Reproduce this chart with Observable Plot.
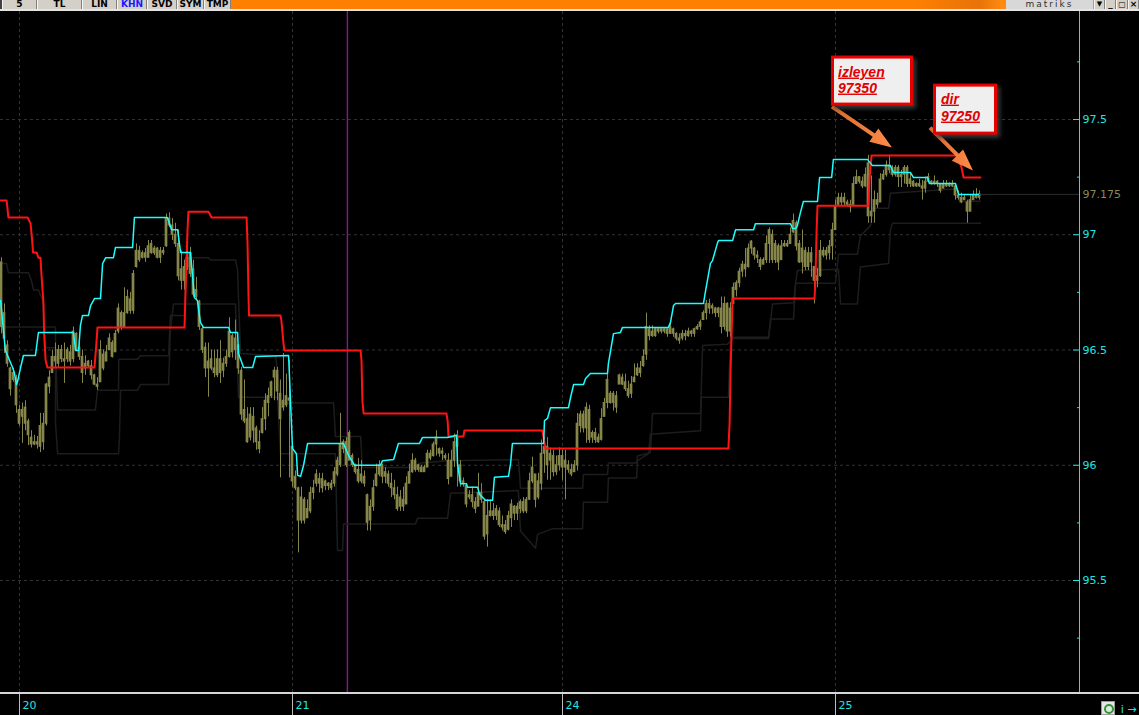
<!DOCTYPE html>
<html><head><meta charset="utf-8">
<script src="https://cdn.jsdelivr.net/npm/d3@7"></script>
<script src="https://cdn.jsdelivr.net/npm/@observablehq/plot@0.6"></script>
<style>
html,body{margin:0;padding:0;background:#000;}
body{width:1139px;height:715px;overflow:hidden;position:relative;font-family:"DejaVu Sans",sans-serif;}
#tb{position:absolute;left:0;top:0;width:1139px;height:9px;background:linear-gradient(90deg,#ff8000 0%,#ff8000 80%,#e8730a 86%,#ff8a10 88%);border-bottom:2px solid #e4e4e4;overflow:hidden;}
#tb .b{position:absolute;top:0;height:9px;background:#d4d0c8;border-left:1px solid #f4f4f4;border-right:1px solid #808080;box-sizing:border-box;font:bold 9px "DejaVu Sans",sans-serif;line-height:9px;text-align:center;color:#000;overflow:hidden;}
#tb .lead{position:absolute;left:0;top:0;width:2px;height:9px;background:#404040;}
#logo{position:absolute;left:1006px;top:0;width:87px;height:9px;background:#d8d8d8;font:9px "DejaVu Sans",sans-serif;line-height:9px;letter-spacing:2px;color:#303030;text-align:center;}
#chart{position:absolute;left:0;top:11px;}
#axisline{position:absolute;left:0;top:692px;width:1139px;height:2px;background:#d6d6d6;}
#icon{position:absolute;left:1101px;top:701px;width:14px;height:14px;background:#e6e6e6;border:1px solid #9a9a9a;box-sizing:border-box;}
#icon .ring{position:absolute;left:2px;top:2px;width:6px;height:6px;border:2px solid #2f9a2f;border-radius:50%;}
</style></head>
<body>
<div id="tb">
 <div class="lead"></div>
 <div class="b" style="left:2px;width:35px">5</div>
 <div class="b" style="left:37px;width:45px">TL</div>
 <div class="b" style="left:82px;width:35px">LIN</div>
 <div class="b" style="left:117px;width:30px;color:#1a1aff">KHN</div>
 <div class="b" style="left:147px;width:30px">SVD</div>
 <div class="b" style="left:177px;width:27px">SYM</div>
 <div class="b" style="left:204px;width:27px">TMP</div>
 <div id="logo">matriks</div>
 <div class="b" style="left:1094px;width:11px;font-size:7px">▼</div>
 <div class="b" style="left:1105px;width:11px">_</div>
 <div class="b" style="left:1116px;width:12px;font-size:8px">▢</div>
 <div class="b" style="left:1128px;width:11px">×</div>
</div>
<div id="chart"></div>
<div id="axisline"></div>
<div id="icon"><div class="ring"></div></div>
<script>
// ---- data ----
const dayStart = [6, 97, 187, 278];
const dayLabels = ["20", "21", "24", "25"];
const priceTicks = [95.5, 96, 96.5, 97, 97.5];
const minorTicks = [95.25, 95.75, 96.25, 96.75, 97.25, 97.75];
const cursorBar = 115.3;

const high = [
96.90,96.70,96.54,96.425,96.42,96.39,96.26,96.27,96.28,96.20,
96.15,96.13,96.125,96.225,96.225,96.355,96.41,96.50,96.53,96.52,
96.52,96.53,96.51,96.52,96.60,96.575,96.54,96.50,96.475,96.455,
96.455,96.395,96.38,96.54,96.50,96.52,96.57,96.54,96.585,96.70,
96.67,96.77,96.76,96.75,96.845,96.96,96.95,96.93,96.94,96.975,
96.975,96.95,96.945,96.945,96.945,97.09,97.095,97.07,97.05,97.02,
96.93,96.89,96.95,96.945,96.89,96.815,96.715,96.60,96.53,96.53,
96.50,96.50,96.50,96.54,96.465,96.50,96.64,96.57,96.63,96.52,
96.425,96.37,96.25,96.25,96.25,96.17,96.15,96.25,96.31,96.335,
96.365,96.425,96.425,96.37,96.485,96.395,96.455,96.095,95.975,95.905,
95.905,95.86,95.85,95.905,95.935,95.98,95.965,95.965,95.935,95.925,
95.935,95.99,96.035,96.225,96.11,96.12,96.15,96.05,96.005,96.03,
96.02,95.975,95.875,95.85,95.935,96.005,96.02,96.005,95.99,95.975,
95.965,95.935,95.905,95.89,95.905,95.95,96.005,96.05,96.03,96.005,
96.00,96.00,96.065,96.065,96.10,96.15,96.075,96.075,96.05,96.05,
96.065,96.135,96.15,96.02,95.945,95.905,95.89,95.905,95.86,95.965,
95.92,95.85,95.85,95.85,95.835,95.825,95.815,95.78,95.76,95.80,
95.85,95.825,95.835,95.85,95.86,95.86,95.965,96.035,95.935,95.965,
96.11,96.12,96.12,96.075,96.065,96.04,96.075,96.065,96.065,96.02,
96.005,96.02,96.225,96.235,96.235,96.27,96.26,96.15,96.16,96.135,
96.245,96.29,96.395,96.32,96.32,96.32,96.395,96.395,96.395,96.365,
96.385,96.44,96.44,96.45,96.50,96.66,96.605,96.605,96.595,96.595,
96.595,96.595,96.595,96.615,96.595,96.575,96.57,96.585,96.585,96.595,
96.585,96.595,96.61,96.63,96.67,96.715,96.72,96.70,96.685,96.685,
96.73,96.73,96.705,96.705,96.79,96.80,96.855,96.885,96.94,96.96,
96.975,96.945,96.93,96.90,96.90,96.995,97.03,97.02,96.975,96.96,
96.975,96.975,96.975,97.03,97.09,97.06,96.975,97.02,96.945,96.945,
96.945,96.845,96.855,96.975,96.945,96.945,96.975,97.05,97.15,97.18,
97.18,97.18,97.15,97.15,97.25,97.28,97.25,97.25,97.29,97.345,
97.255,97.19,97.18,97.265,97.28,97.32,97.345,97.30,97.30,97.30,
97.28,97.30,97.30,97.265,97.235,97.225,97.24,97.235,97.25,97.265,
97.235,97.255,97.235,97.22,97.235,97.235,97.225,97.235,97.22,97.19,
97.18,97.17,97.15,97.17,97.19,97.20,97.19];

const low = [
96.57,96.485,96.425,96.30,96.36,96.225,96.17,96.095,96.15,96.085,
96.075,96.085,96.07,96.055,96.065,96.17,96.31,96.40,96.425,96.425,
96.445,96.355,96.445,96.43,96.445,96.50,96.455,96.355,96.39,96.42,
96.37,96.345,96.325,96.365,96.41,96.455,96.50,96.465,96.49,96.57,
96.585,96.595,96.655,96.655,96.655,96.855,96.88,96.895,96.88,96.91,
96.915,96.91,96.895,96.875,96.91,96.945,97.03,96.975,96.945,96.80,
96.76,96.76,96.845,96.815,96.73,96.715,96.585,96.485,96.38,96.295,
96.41,96.38,96.38,96.355,96.38,96.425,96.465,96.465,96.455,96.395,
96.195,96.18,96.095,96.105,96.095,96.065,96.05,96.135,96.15,96.21,
96.29,96.28,96.28,95.945,96.235,96.25,95.945,95.905,95.89,95.62,
95.745,95.745,95.78,95.79,95.85,95.905,95.88,95.88,95.89,95.89,
95.89,95.905,95.95,95.99,96.05,95.99,96.04,95.99,95.96,95.92,
95.92,95.905,95.715,95.715,95.80,95.905,95.95,95.92,95.92,95.905,
95.86,95.85,95.80,95.80,95.80,95.835,95.92,95.965,95.97,95.97,
95.97,95.97,95.99,96.02,96.035,96.04,96.035,96.02,96.02,95.915,
95.965,95.99,95.905,95.905,95.905,95.815,95.85,95.815,95.79,95.85,
95.835,95.675,95.645,95.775,95.76,95.76,95.73,95.715,95.70,95.715,
95.73,95.76,95.76,95.79,95.79,95.79,95.85,95.92,95.815,95.85,
95.89,95.965,95.935,95.935,95.95,95.955,95.975,95.935,95.85,95.965,
95.95,95.975,95.975,96.14,96.14,96.095,96.095,96.095,96.095,96.095,
96.105,96.22,96.245,96.265,96.235,96.225,96.35,96.345,96.32,96.29,
96.29,96.36,96.385,96.38,96.425,96.455,96.54,96.555,96.555,96.57,
96.57,96.57,96.555,96.57,96.555,96.54,96.525,96.54,96.54,96.555,
96.555,96.555,96.585,96.585,96.63,96.63,96.655,96.655,96.64,96.64,
96.57,96.585,96.555,96.555,96.70,96.73,96.77,96.815,96.815,96.855,
96.915,96.89,96.875,96.845,96.875,96.875,96.875,96.875,96.875,96.845,
96.89,96.945,96.945,96.96,97.005,96.93,96.875,96.83,96.845,96.845,
96.815,96.70,96.77,96.815,96.90,96.89,96.89,96.89,97.02,97.125,
97.125,97.125,97.12,97.095,97.125,97.22,97.22,97.20,97.205,97.05,
97.05,97.05,97.115,97.16,97.235,97.25,97.265,97.25,97.25,97.205,
97.205,97.22,97.205,97.205,97.205,97.205,97.205,97.15,97.18,97.235,
97.215,97.215,97.205,97.18,97.205,97.205,97.205,97.205,97.15,97.15,
97.135,97.15,97.05,97.115,97.15,97.155,97.15];

const open = [
96.88,96.66,96.52,96.42,96.40,96.37,96.24,96.24,96.25,96.19,
96.12,96.10,96.09,96.08,96.18,96.18,96.34,96.40,96.47,96.44,
96.50,96.46,96.46,96.49,96.46,96.57,96.51,96.47,96.42,96.45,
96.43,96.39,96.35,96.36,96.48,96.45,96.50,96.53,96.49,96.58,
96.66,96.60,96.66,96.72,96.67,96.86,96.93,96.90,96.92,96.90,
96.96,96.92,96.94,96.90,96.93,96.95,97.07,97.04,97.00,96.96,
96.85,96.80,96.86,96.92,96.85,96.76,96.71,96.59,96.51,96.42,
96.46,96.42,96.39,96.46,96.41,96.44,96.47,96.56,96.50,96.52,
96.41,96.24,96.20,96.12,96.21,96.16,96.10,96.14,96.20,96.27,
96.30,96.38,96.41,96.31,96.25,96.30,96.28,96.08,95.95,95.90,
95.76,95.85,95.77,95.80,95.88,95.92,95.94,95.90,95.93,95.91,
95.92,95.92,95.96,96.00,96.07,96.10,96.02,96.04,96.00,95.98,
95.93,95.95,95.87,95.76,95.82,95.91,95.96,96.00,95.95,95.96,
95.92,95.90,95.87,95.82,95.85,95.83,95.92,95.97,96.02,95.98,
95.99,95.97,95.99,96.05,96.04,96.09,96.07,96.05,96.04,96.02,
95.95,96.02,96.12,96.00,95.93,95.91,95.86,95.87,95.84,95.82,
95.88,95.84,95.70,95.78,95.80,95.78,95.80,95.74,95.74,95.72,
95.77,95.82,95.79,95.81,95.84,95.80,95.85,95.93,95.96,95.86,
95.92,96.05,96.08,96.02,96.04,95.97,96.00,96.04,95.99,96.00,
95.98,95.97,96.00,96.17,96.22,96.16,96.24,96.12,96.14,96.12,
96.11,96.21,96.27,96.31,96.27,96.30,96.35,96.38,96.36,96.33,
96.31,96.36,96.39,96.42,96.43,96.48,96.59,96.58,96.56,96.58,
96.59,96.58,96.59,96.57,96.59,96.57,96.55,96.55,96.57,96.56,
96.58,96.57,96.59,96.60,96.63,96.66,96.70,96.68,96.68,96.66,
96.68,96.60,96.70,96.58,96.70,96.76,96.79,96.84,96.87,96.86,
96.94,96.94,96.91,96.89,96.87,96.89,96.96,97.00,96.89,96.95,
96.89,96.95,96.96,96.96,97.01,97.05,96.96,96.88,96.93,96.86,
96.92,96.86,96.80,96.82,96.93,96.91,96.92,96.95,97.02,97.13,
97.16,97.14,97.14,97.13,97.13,97.22,97.25,97.23,97.21,97.31,
97.08,97.10,97.15,97.14,97.24,97.26,97.30,97.28,97.26,97.29,
97.25,97.26,97.29,97.22,97.23,97.21,97.22,97.21,97.20,97.23,
97.23,97.22,97.23,97.22,97.20,97.22,97.21,97.22,97.21,97.17,
97.16,97.15,97.14,97.10,97.15,97.17,97.16];

const close = [
96.60,96.55,96.44,96.33,96.37,96.26,96.18,96.21,96.18,96.13,
96.09,96.09,96.10,96.17,96.10,96.35,96.38,96.47,96.45,96.50,
96.46,96.45,96.50,96.45,96.58,96.50,96.47,96.40,96.44,96.43,
96.39,96.35,96.34,96.50,96.42,96.49,96.55,96.47,96.57,96.68,
96.60,96.66,96.73,96.67,96.83,96.93,96.89,96.92,96.90,96.95,
96.92,96.94,96.90,96.93,96.92,97.07,97.04,97.00,96.96,96.82,
96.80,96.86,96.90,96.83,96.74,96.73,96.60,96.50,96.42,96.45,
96.42,96.40,96.46,96.40,96.44,96.47,96.58,96.49,96.55,96.42,
96.22,96.19,96.10,96.22,96.15,96.10,96.07,96.20,96.28,96.30,
96.36,96.41,96.32,96.20,96.28,96.26,96.29,95.93,95.90,95.76,
95.86,95.76,95.81,95.88,95.90,95.96,95.92,95.94,95.91,95.92,
95.90,95.97,96.02,96.09,96.10,96.00,96.14,96.00,95.97,95.93,
95.96,95.92,95.75,95.82,95.90,95.96,96.00,95.95,95.97,95.92,
95.90,95.87,95.81,95.86,95.82,95.92,95.97,96.02,95.98,96.00,
95.97,95.99,96.05,96.03,96.09,96.12,96.05,96.06,96.03,95.94,
96.02,96.10,96.08,95.93,95.92,95.83,95.87,95.84,95.81,95.88,
95.85,95.69,95.78,95.80,95.78,95.81,95.74,95.73,95.71,95.78,
95.83,95.79,95.82,95.84,95.80,95.85,95.93,95.99,95.85,95.93,
96.05,96.08,96.00,96.05,95.97,96.00,96.04,95.99,96.02,95.98,
95.96,96.00,96.18,96.22,96.16,96.25,96.11,96.14,96.11,96.10,
96.20,96.27,96.37,96.27,96.31,96.25,96.39,96.35,96.33,96.30,
96.35,96.38,96.42,96.40,96.47,96.60,96.56,96.56,96.59,96.59,
96.58,96.59,96.57,96.60,96.57,96.55,96.54,96.57,96.56,96.58,
96.57,96.59,96.60,96.62,96.66,96.70,96.68,96.69,96.66,96.68,
96.60,96.70,96.58,96.68,96.77,96.79,96.84,96.87,96.85,96.94,
96.97,96.91,96.90,96.86,96.89,96.96,97.02,96.89,96.96,96.88,
96.95,96.96,96.95,97.00,97.06,96.95,96.88,96.94,96.86,96.92,
96.88,96.80,96.82,96.93,96.91,96.93,96.95,97.02,97.12,97.16,
97.14,97.16,97.13,97.12,97.22,97.25,97.23,97.21,97.26,97.08,
97.10,97.15,97.13,97.24,97.26,97.30,97.28,97.26,97.29,97.25,
97.26,97.29,97.22,97.24,97.21,97.22,97.21,97.20,97.23,97.25,
97.22,97.23,97.22,97.19,97.22,97.21,97.22,97.21,97.17,97.16,
97.14,97.16,97.10,97.15,97.17,97.16,97.175];

// upper channel (cyan), [bar, price]
const cyanLine = [[-0.3,96.715],[1.3,96.498],[3.7,96.424],[4.3,96.40],[5,96.35],[5.3,96.36],[6.3,96.42],[7.3,96.476],[11.3,96.476],[12.3,96.576],[24,96.576],[24.7,96.498],[25.7,96.498],[26.3,96.606],[27,96.65],[29,96.65],[29.7,96.693],[31,96.723],[33,96.723],[33.7,96.875],[34.7,96.90],[37.3,96.90],[38,96.945],[43.7,96.945],[44.3,97.075],[55.3,97.075],[56.7,97.022],[58.7,97.022],[59.7,96.923],[63,96.923],[64.3,96.728],[65.3,96.715],[66.3,96.62],[67.3,96.598],[75.7,96.598],[76.3,96.576],[78.7,96.576],[79,96.485],[80.7,96.424],[83.7,96.424],[84.7,96.472],[95.7,96.476],[97,96.073],[98.3,96.05],[98.7,95.956],[99.7,95.952],[100.7,96.0],[102,96.094],[114,96.094],[114.7,96.073],[115.7,96.042],[117.7,96.0],[126.3,96.0],[127,96.02],[130.7,96.025],[132.3,96.094],[139.3,96.094],[140.3,96.12],[148.7,96.12],[151.7,96.13],[152,96.008],[153,95.92],[155,95.92],[155.3,95.905],[158.7,95.905],[159.3,95.874],[161.3,95.848],[163.7,95.848],[164.3,95.948],[169,95.952],[169.7,96.008],[170.3,96.094],[180.7,96.094],[181,96.194],[182,96.203],[183,96.25],[189,96.25],[189.7,96.295],[190.7,96.35],[194,96.35],[194.7,96.376],[196.3,96.398],[202,96.398],[202.3,96.441],[204,96.571],[206.3,96.576],[207,96.598],[222.3,96.598],[223,96.62],[224,96.693],[224.7,96.702],[234,96.702],[234.7,96.758],[236.3,96.875],[237,96.888],[238.7,96.966],[239,96.975],[243.7,96.975],[244.7,97.022],[250.7,97.022],[251.3,97.048],[263,97.048],[263.7,97.027],[264.7,97.027],[265.3,97.04],[266.3,97.096],[267.3,97.144],[272,97.144],[272.7,97.248],[276.7,97.248],[277.3,97.326],[288.7,97.326],[290.3,97.30],[296.3,97.30],[297.3,97.27],[303,97.27],[304,97.248],[308.7,97.248],[309.3,97.222],[318,97.222],[319,97.175],[326.3,97.175]];

// trailing stop (red), [bar, price]
const redLine = [[-0.3,97.149],[1.7,97.149],[2.3,97.075],[8.7,97.075],[9.7,97.048],[10.3,96.962],[10.5,96.923],[11.7,96.923],[12.3,96.90],[13,96.90],[13.3,96.832],[14,96.702],[14.2,96.572],[14.7,96.455],[15.3,96.424],[31,96.424],[31.7,96.541],[32,96.598],[61,96.598],[61.3,96.728],[62,97.018],[62.3,97.10],[69,97.10],[70,97.075],[81.7,97.075],[82,96.966],[82.3,96.758],[82.5,96.65],[93,96.65],[93.3,96.628],[94,96.528],[94.3,96.498],[119.7,96.498],[120,96.455],[120.3,96.281],[120.7,96.225],[148.3,96.225],[148.7,96.194],[149,96.125],[154,96.125],[154.3,96.151],[180.3,96.151],[180.7,96.12],[181.3,96.073],[242.3,96.073],[242.7,96.181],[243,96.398],[243.3,96.541],[243.7,96.723],[271,96.723],[271.3,96.80],[271.7,97.018],[272,97.126],[289,97.126],[289.3,97.235],[290,97.344],[318,97.344],[318.7,97.34],[320,97.292],[320.7,97.248],[326.3,97.248]];

// dark gray channel lines, [bar, price]
const grayMid = [[-0.3,96.875],[1.7,96.875],[2.3,96.835],[9,96.835],[10,96.80],[10.7,96.76],[12.3,96.76],[13.7,96.715],[14.7,96.51],[18,96.51],[18.7,96.24],[31.3,96.24],[32,96.325],[39,96.325],[39.1,96.46],[45.3,96.46],[46.3,96.475],[55.7,96.475],[56.3,96.65],[61,96.65],[61.3,96.90],[69,96.90],[69.7,96.89],[78,96.89],[78.7,96.845],[79,96.73],[79.7,96.485],[91.3,96.475],[92,96.41],[93,96.27],[110.7,96.27],[111.3,96.125],[119.7,96.125],[120.3,95.99],[138,95.99],[139.7,96.01],[148.7,96.02],[172.3,96.025],[173,95.90],[193.7,95.90],[194,95.96],[202,95.96],[202.3,96.01],[211.7,96.01],[212,96.04],[216.3,96.055],[217,96.225],[233,96.225],[233.7,96.52],[242,96.525],[243.7,96.55],[255.7,96.55],[256.3,96.635],[264,96.635],[264.7,96.79],[278,96.79],[279,96.915],[285.3,96.915],[286.3,96.995],[289.7,97.04],[290.3,97.115],[295.7,97.115],[296.3,97.18],[318.7,97.20],[319.3,97.145],[326.3,97.145]];
const grayLow = [[-0.3,96.60],[18,96.60],[18,96.185],[18.7,96.05],[39,96.05],[39.3,96.115],[39.7,96.325],[45.3,96.325],[46.3,96.35],[55.7,96.35],[56.3,96.585],[57.3,96.70],[78,96.70],[79,96.295],[92,96.295],[93,96.05],[111.3,96.05],[112,95.63],[113.7,95.63],[114,95.745],[138,95.745],[138.7,95.77],[148.7,95.77],[149.7,95.88],[152,95.88],[172.3,95.89],[173,95.715],[178,95.64],[178.7,95.70],[183.7,95.725],[193.7,95.725],[194,95.84],[202,95.84],[202.3,95.945],[211.7,95.945],[212,96.02],[215.7,96.05],[216.3,96.135],[233,96.15],[233.3,96.295],[242.3,96.295],[243,96.555],[255.7,96.555],[256.3,96.615],[257,96.70],[264,96.705],[264.7,96.79],[265.3,96.845],[279,96.85],[279.7,96.70],[285.3,96.70],[286.3,96.86],[295.7,96.875],[296.3,97.02],[297,97.05],[326.3,97.05]];

// annotations (trailing stop levels)
const noteLabels = ["izleyen", "dir"];
const notePrices = [97.35, 97.25];
const noteBars = [297, 324];

// ---- chart ----
const olive = "#86864a";
const bars = close.map((c, i) => ({i, o: open[i], h: high[i], l: low[i], c}));
const lastIdx = bars.length - 1;
const lastClose = close[lastIdx];
const xMax = 359 + 1/3;
const axisCyan = "#20e4e4";

const chart = Plot.plot({
  width: 1139, height: 704,
  marginLeft: 0, marginRight: 60, marginTop: 0, marginBottom: 22,
  style: {background: "#000", fontFamily: "DejaVu Sans", overflow: "visible"},
  x: {domain: [-1/3, xMax]},
  y: {domain: [95.0098, 97.9685]},
  marks: [
    Plot.gridY(priceTicks, {stroke: "#333", strokeOpacity: 1, strokeDasharray: "3,3"}),
    Plot.gridX(dayStart, {stroke: "#333", strokeOpacity: 1, strokeDasharray: "3,3"}),
    Plot.ruleX([cursorBar], {stroke: "#8c168c", strokeWidth: 1.4}),
    Plot.line(grayMid, {x: d => d[0], y: d => d[1], stroke: "#1d1d1d", strokeWidth: 1.5}),
    Plot.line(grayLow, {x: d => d[0], y: d => d[1], stroke: "#1d1d1d", strokeWidth: 1.5}),
    Plot.ruleX(bars, {x: "i", y1: d => Math.min(d.l, d.o, d.c), y2: d => Math.max(d.h, d.o, d.c), stroke: olive, strokeWidth: 1}),
    Plot.rect(bars, {x1: d => d.i - 0.45, x2: d => d.i + 0.45, y1: d => Math.min(d.o, d.c), y2: d => Math.max(d.o, d.c), fill: olive, insetTop: -0.5, insetBottom: -0.5}),
    Plot.line(redLine, {x: d => d[0], y: d => d[1], stroke: "#ff1414", strokeWidth: 2}),
    Plot.line(cyanLine, {x: d => d[0], y: d => d[1], stroke: "#1cffff", strokeWidth: 1.5}),
    Plot.ruleY([lastClose], {x1: lastIdx, x2: xMax, stroke: "#2c2c2c"}),
    Plot.frame({anchor: "right", stroke: axisCyan}),
    Plot.axisY(priceTicks, {anchor: "right", tickSize: -7, tickPadding: 10, color: axisCyan, fontSize: 11, tickFormat: d => String(d)}),
    Plot.axisY(minorTicks, {anchor: "right", tickSize: -3, color: axisCyan, tickFormat: () => ""}),
    Plot.axisY([lastClose], {anchor: "right", tickSize: 0, tickPadding: 3, color: "#8a8a52", fontSize: 11, tickFormat: d => d.toFixed(3)}),
    Plot.axisX(dayStart, {anchor: "bottom", tickSize: 22, stroke: "#bcbcbc", tickFormat: () => ""}),
    Plot.axisX(dayStart, {anchor: "bottom", tickSize: 0, tickPadding: 8, textAnchor: "start", dx: 3, fill: axisCyan, fontSize: 11, tickFormat: d => dayLabels[dayStart.indexOf(d)]})
  ]
});
document.getElementById("chart").appendChild(chart);

// ---- annotations drawn with the plot's scales ----
const sx = chart.scale("x"), sy = chart.scale("y");
const svg = d3.select(chart);
const layout = [
  {box: [-61, -92, 82, 50], tail: [-60, -41], tx: 7, b1: 21, b2: 37},
  {box: [-40, -87, 64, 51], tail: [-43, -43], tx: 8, b1: 20, b2: 37}
];
const defs = svg.append("defs");
defs.append("filter").attr("id", "shadow").attr("x", "-20%").attr("y", "-20%").attr("width", "150%").attr("height", "150%")
  .append("feGaussianBlur").attr("stdDeviation", 2);
const grad = defs.append("linearGradient").attr("id", "arrowGrad");
grad.append("stop").attr("offset", "0%").attr("stop-color", "#d9692c");
grad.append("stop").attr("offset", "100%").attr("stop-color", "#ff8c4a");

function arrowPts(x0, y0, x1, y1) {
  const dx = x1 - x0, dy = y1 - y0, len = Math.hypot(dx, dy);
  const ux = dx / len, uy = dy / len, nx = -uy, ny = ux;
  const hl = 22, hw = 8, sw = 2;
  const bx = x1 - ux * hl, by = y1 - uy * hl;
  return [
    [x0 + nx * sw, y0 + ny * sw], [bx + nx * sw, by + ny * sw], [bx + nx * hw, by + ny * hw],
    [x1, y1], [bx - nx * hw, by - ny * hw], [bx - nx * sw, by - ny * sw], [x0 - nx * sw, y0 - ny * sw]
  ].map(p => p.join(",")).join(" ");
}

noteLabels.forEach((label, k) => {
  const L = layout[k];
  const tipX = sx.apply(noteBars[k]);
  const tipY = sy.apply(notePrices[k]) - 6;
  const bx = tipX + L.box[0], by = tipY + L.box[1], bw = L.box[2], bh = L.box[3];
  const g = svg.append("g").attr("text-anchor", "start");
  g.append("polygon").attr("points", arrowPts(tipX + L.tail[0], tipY + L.tail[1], tipX, tipY))
    .attr("fill", "url(#arrowGrad)");
  g.append("rect").attr("x", bx + 3).attr("y", by + 3).attr("width", bw).attr("height", bh)
    .attr("fill", "#3a3a3a").attr("filter", "url(#shadow)");
  g.append("rect").attr("x", bx + 1.5).attr("y", by + 1.5).attr("width", bw - 3).attr("height", bh - 3)
    .attr("fill", "#efefef").attr("stroke", "#e60000").attr("stroke-width", 3);
  const lines = [label, String(Math.round(notePrices[k] * 1000))];
  [L.b1, L.b2].forEach((b, j) => {
    g.append("text").attr("x", bx + L.tx).attr("y", by + b).attr("text-anchor", "start")
      .attr("fill", "#e00000").attr("font-family", "Liberation Sans, Arial, sans-serif")
      .attr("font-size", 14).attr("font-weight", "bold").attr("font-style", "italic")
      .attr("text-decoration", "underline").text(lines[j]);
  });
});
</script>
</body></html>
